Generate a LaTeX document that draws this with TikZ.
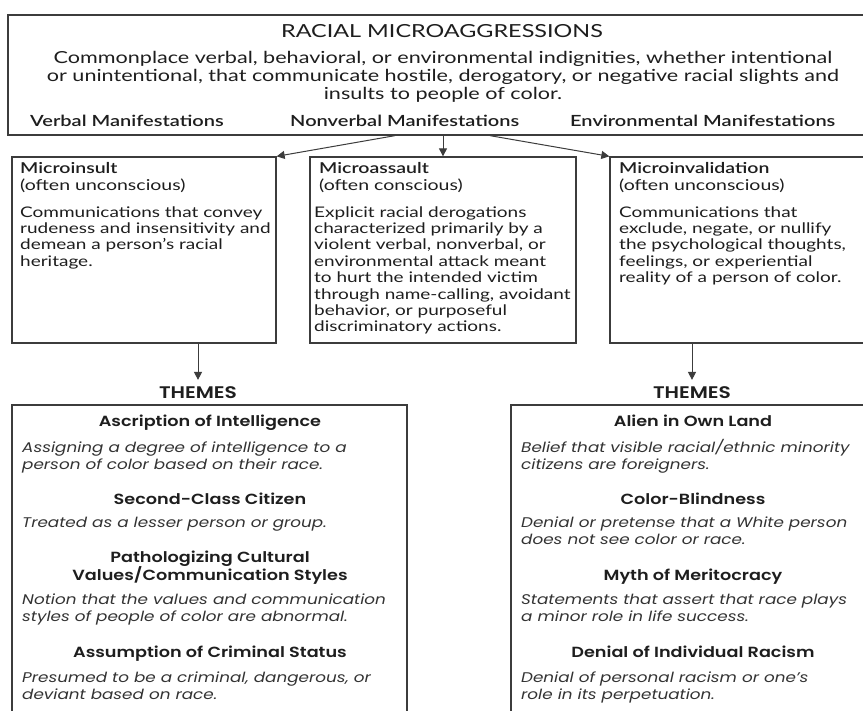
\documentclass[tikz,border=0pt]{standalone}
\usepackage{fontspec}
\setmainfont{Lato}[FakeStretch=1.3, BoldFont={Lato Semibold}]
\newfontfamily\themefont{Poppins}[FakeStretch=1.2, BoldFont={Poppins SemiBold}]
\usetikzlibrary{arrows.meta}
\definecolor{ink}{HTML}{1E1E1E}
\definecolor{soft}{HTML}{333333}
\definecolor{frame}{HTML}{3C3C3C}
\newcommand{\fs}[2]{\fontsize{#1}{#2}\selectfont}
\newcommand{\tops}{\rule{0pt}{1em}}
\begin{document}
\begin{tikzpicture}[x=1pt,y=-1pt,
  frm/.style={draw=frame, line width=1.3pt, rectangle, inner sep=0pt},
  arr/.style={draw=frame, line width=1pt, -{Triangle[length=8pt,width=8pt]}},
  txt/.style={inner sep=0pt, text=ink},
  mhead/.style={txt, anchor=base west, font=\fs{15}{18}\bfseries},
  manif/.style={txt, anchor=base west, font=\fs{15.4}{18}\bfseries},
  msub/.style={txt, anchor=base west, font=\fs{15}{18}},
  mbody/.style={txt, anchor=north west, align=left, font=\fs{14.6}{16.4}},
  thead/.style={txt, anchor=base, font=\themefont\bfseries\fs{14.7}{18}},
  thead2/.style={txt, anchor=north, align=center, font=\themefont\bfseries\fs{14.7}{18}},
  tbody/.style={txt, text=soft, anchor=north west, align=left, font=\themefont\itshape\fs{14}{17}},
  themes/.style={txt, anchor=base, font=\themefont\bfseries\fs{16.8}{18}},
]
\useasboundingbox (0,0) rectangle (863,711);
\clip (0,0) rectangle (863,711);
\fill[white] (0,0) rectangle (863,711);

% frames
\node[frm, minimum width=872pt, minimum height=120pt] (top) at (444,75) {};
\node[frm, minimum width=264pt, minimum height=186pt] (b1) at (144,250) {};
\node[frm, minimum width=266pt, minimum height=186pt] (b2) at (443,250) {};
\node[frm, minimum width=270pt, minimum height=186pt] (b3) at (745,250) {};
\node[frm, minimum width=395pt, minimum height=325pt] (t1) at (209.5,567.5) {};
\node[frm, minimum width=369pt, minimum height=325pt] (t2) at (695.5,567.5) {};

% top box text
\node[txt, anchor=north, align=center, font=\fs{18}{20}] (title) at (442,19) {\tops RACIAL MICROAGGRESSIONS};
\node[txt, anchor=north, align=center, font=\fs{16.6}{18}] (desc) at (443,46.4)
  {\tops Commonplace verbal, behavioral, or environmental indignities, whether intentional\\
   or unintentional, that communicate hostile, derogatory, or negative racial slights and\\
   insults to people of color.};
\node[manif] (verbal) at (30,127) {Verbal Manifestations};
\node[manif] (nonverbal) at (290,127) {Nonverbal Manifestations};
\node[manif] (environ) at (570,127) {Environmental Manifestations};

% arrows from top box
\draw[arr] ([xshift=-49pt]top.south) -- (b1.north east);
\draw[arr] ([xshift=-1pt]top.south) -- (b2.north);
\draw[arr] ([xshift=46pt]top.south) -- (b3.north west);

% three boxes
\node[mhead] (h1) at (20,174) {Microinsult};
\node[msub] (s1) at (20,191) {(often unconscious)};
\node[mbody] (p1) at (20,202.4) {\tops Communications that convey\\ rudeness and insensitivity and\\ demean a person’s racial\\ heritage.};

\node[mhead] (h2) at (319,174) {Microassault};
\node[msub] (s2) at (319,191) {(often conscious)};
\node[mbody] (p2) at (314,202.4) {\tops Explicit racial derogations\\ characterized primarily by a\\ violent verbal, nonverbal, or\\ environmental attack meant\\ to hurt the intended victim\\ through name-calling, avoidant\\ behavior, or purposeful\\ discriminatory actions.};

\node[mhead] (h3) at (619,174) {Microinvalidation};
\node[msub] (s3) at (619,191) {(often unconscious)};
\node[mbody] (p3) at (619,202.4) {\tops Communications that\\ exclude, negate, or nullify\\ the psychological thoughts,\\ feelings, or experiential\\ reality of a person of color.};

% themes labels and arrows
\node[themes] (th1) at (198,399) {THEMES};
\node[themes] (th2) at (692,399) {THEMES};
\coordinate (e1) at ([yshift=7pt]th1.north);
\coordinate (e2) at ([yshift=7pt]th2.north);
\draw[arr] (b1.south -| e1) -- (e1);
\draw[arr] (b3.south -| e2) -- (e2);

% left themes
\node[thead] (l1) at (210,427) {Ascription of Intelligence};
\node[tbody] (l1d) at (22,438) {\tops Assigning a degree of intelligence to a\\ person of color based on their race.};
\node[thead] (l2) at (210,504) {Second-Class Citizen};
\node[tbody] (l2d) at (22,513) {\tops Treated as a lesser person or group.};
\node[thead2] (l3) at (210,547.3) {\tops Pathologizing Cultural\\ Values/Communication Styles};
\node[tbody] (l3d) at (22,590) {\tops Notion that the values and communication\\ styles of people of color are abnormal.};
\node[thead] (l4) at (210,657) {Assumption of Criminal Status};
\node[tbody] (l4d) at (22,668) {\tops Presumed to be a criminal, dangerous, or\\ deviant based on race.};

% right themes
\node[thead] (r1) at (693,427) {Alien in Own Land};
\node[tbody] (r1d) at (521,438) {\tops Belief that visible racial/ethnic minority\\ citizens are foreigners.};
\node[thead] (r2) at (693,504) {Color-Blindness};
\node[tbody] (r2d) at (521,513) {\tops Denial or pretense that a White person\\ does not see color or race.};
\node[thead] (r3) at (693,580) {Myth of Meritocracy};
\node[tbody] (r3d) at (521,590) {\tops Statements that assert that race plays\\ a minor role in life success.};
\node[thead] (r4) at (693,657) {Denial of Individual Racism};
\node[tbody] (r4d) at (521,668) {\tops Denial of personal racism or one’s\\ role in its perpetuation.};
\end{tikzpicture}
\end{document}
